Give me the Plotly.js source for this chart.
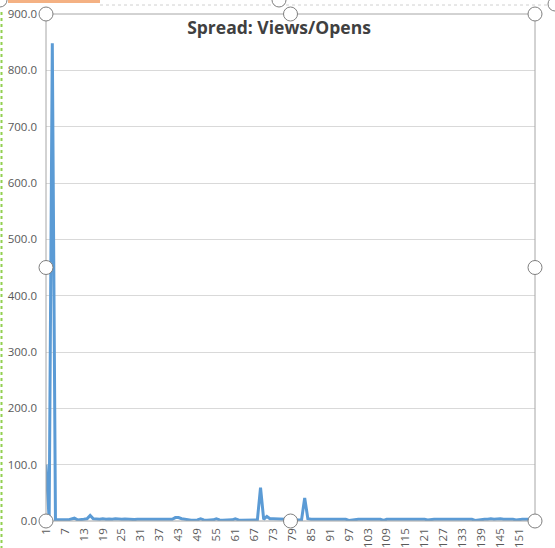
<!DOCTYPE html>
<html>
<head>
<meta charset="utf-8">
<script src="https://cdn.plot.ly/plotly-3.0.1.min.js"></script>
<style>html,body{margin:0;padding:0;background:#fff;}#chart{width:555px;height:548px;}</style>
</head>
<body>
<div id="chart"></div>
<script>
// Data
const categories = Array.from({length: 156}, (_, i) => i + 1);
const spreadValues = [
  100, 3, 848, 2, 2, 1.5, 2, 2, 3, 5,
  2, 2, 3, 4, 10, 4, 3, 3, 4, 3,
  3.5, 3, 4, 3, 3, 3.5, 3, 2, 2.5, 3,
  3, 3, 3, 3.5, 3, 3, 3, 3, 3, 3,
  3, 6, 6, 4, 3, 2, 1.5, 1.5, 2, 4,
  2, 1.5, 1.5, 2, 4, 2, 1.5, 1.5, 1.5, 2,
  4, 2, 1.5, 1.5, 1.5, 1.5, 1.5, 2, 59, 3,
  8, 4, 4, 4, 3, 3, 3, 1.5, 1.5, 1.5,
  1.5, 2, 41, 4, 3, 3, 3, 3, 3, 3,
  3, 3, 3, 3, 3, 3, 1, 2, 3, 3,
  3, 3, 3, 3, 3, 3, 3, 1, 3, 3,
  3, 3, 3, 3, 3, 3, 3, 3, 3, 4,
  3, 2, 3, 3, 3, 3, 3, 3, 2, 3,
  3, 3, 3, 3, 3, 3, 1, 2, 3, 3,
  3, 4, 3, 4, 4, 3, 3, 4, 3, 2,
  3, 3, 3, 3, 3, 3
];
const xTickVals = categories.filter(c => (c - 1) % 6 === 0);
const xTickText = xTickVals.map(String);
const titleText = 'Spread: Views/Opens';

// Layout constants (pixels)
const W = 555, H = 548;
const L = 46, R = 535, T = 14, B = 521;
const pw = R - L, ph = B - T;
const rad = 7;
const px = x => (x - L) / pw;
const py = y => (B - y) / ph;

const handleCentres = [
  [L, T], [(L + R) / 2, T], [R, T],
  [L, (T + B) / 2], [R, (T + B) / 2],
  [L, B], [(L + R) / 2, B], [R, B]
];
const shapes = [
  {type: 'rect', xref: 'paper', yref: 'paper', x0: 0, x1: 1, y0: 0, y1: 1,
   line: {color: '#A6A6A6', width: 1}, layer: 'above'},
  // outer selection decorations
  {type: 'line', xref: 'paper', yref: 'paper', x0: px(1.5), x1: px(1.5), y0: py(12), y1: py(548),
   line: {color: '#92D050', width: 2, dash: 'dot'}, layer: 'above'},
  {type: 'line', xref: 'paper', yref: 'paper', x0: px(8), x1: px(100), y0: py(1.5), y1: py(1.5),
   line: {color: '#F4B183', width: 3}, layer: 'above'},
  {type: 'line', xref: 'paper', yref: 'paper', x0: px(100), x1: px(555), y0: py(5), y1: py(5),
   line: {color: '#D0D0D0', width: 1, dash: 'dot'}, layer: 'above'}
];
handleCentres.concat([[279, 0], [555, 4], [0, 0]]).forEach(([cx, cy]) => {
  shapes.push({type: 'circle', xref: 'paper', yref: 'paper',
    x0: px(cx - rad), x1: px(cx + rad), y0: py(cy + rad), y1: py(cy - rad),
    fillcolor: '#FFFFFF', line: {color: '#7F7F7F', width: 1}, layer: 'above'});
});

const trace = {
  x: categories,
  y: spreadValues,
  type: 'scatter',
  mode: 'lines',
  line: {color: '#5B9BD5', width: 3},
  hoverinfo: 'x+y'
};

const layout = {
  width: W, height: H,
  margin: {l: L, r: W - R, t: T, b: H - B, pad: 0},
  paper_bgcolor: '#FFFFFF',
  plot_bgcolor: '#FFFFFF',
  showlegend: false,
  font: {family: 'Open Sans, Liberation Sans, sans-serif', color: '#595959', size: 11},
  title: {
    text: titleText,
    xref: 'container', yref: 'container',
    x: 279 / W, y: 1 - 28 / H, xanchor: 'center', yanchor: 'middle',
    font: {family: 'Open Sans, sans-serif', size: 17.5, color: '#404040', weight: 'bold'}
  },
  xaxis: {
    range: [1, 156],
    tickmode: 'array', tickvals: xTickVals, ticktext: xTickText,
    tickangle: -90,
    showgrid: false, zeroline: false,
    showline: false,
    ticks: '', automargin: false,
    ticklabelstandoff: 4,
    tickfont: {size: 11.5, color: '#595959'}
  },
  yaxis: {
    range: [0, 900], dtick: 100, tick0: 0,
    tickformat: '.1f',
    showgrid: true, gridcolor: '#D9D9D9', gridwidth: 1,
    zeroline: false, showline: false, ticks: '', automargin: false,
    ticklabelstandoff: 8,
    tickfont: {size: 11.5, color: '#595959'}
  },
  shapes: shapes
};

Plotly.newPlot('chart', [trace], layout, {displayModeBar: false, staticPlot: true});
</script>
</body>
</html>
